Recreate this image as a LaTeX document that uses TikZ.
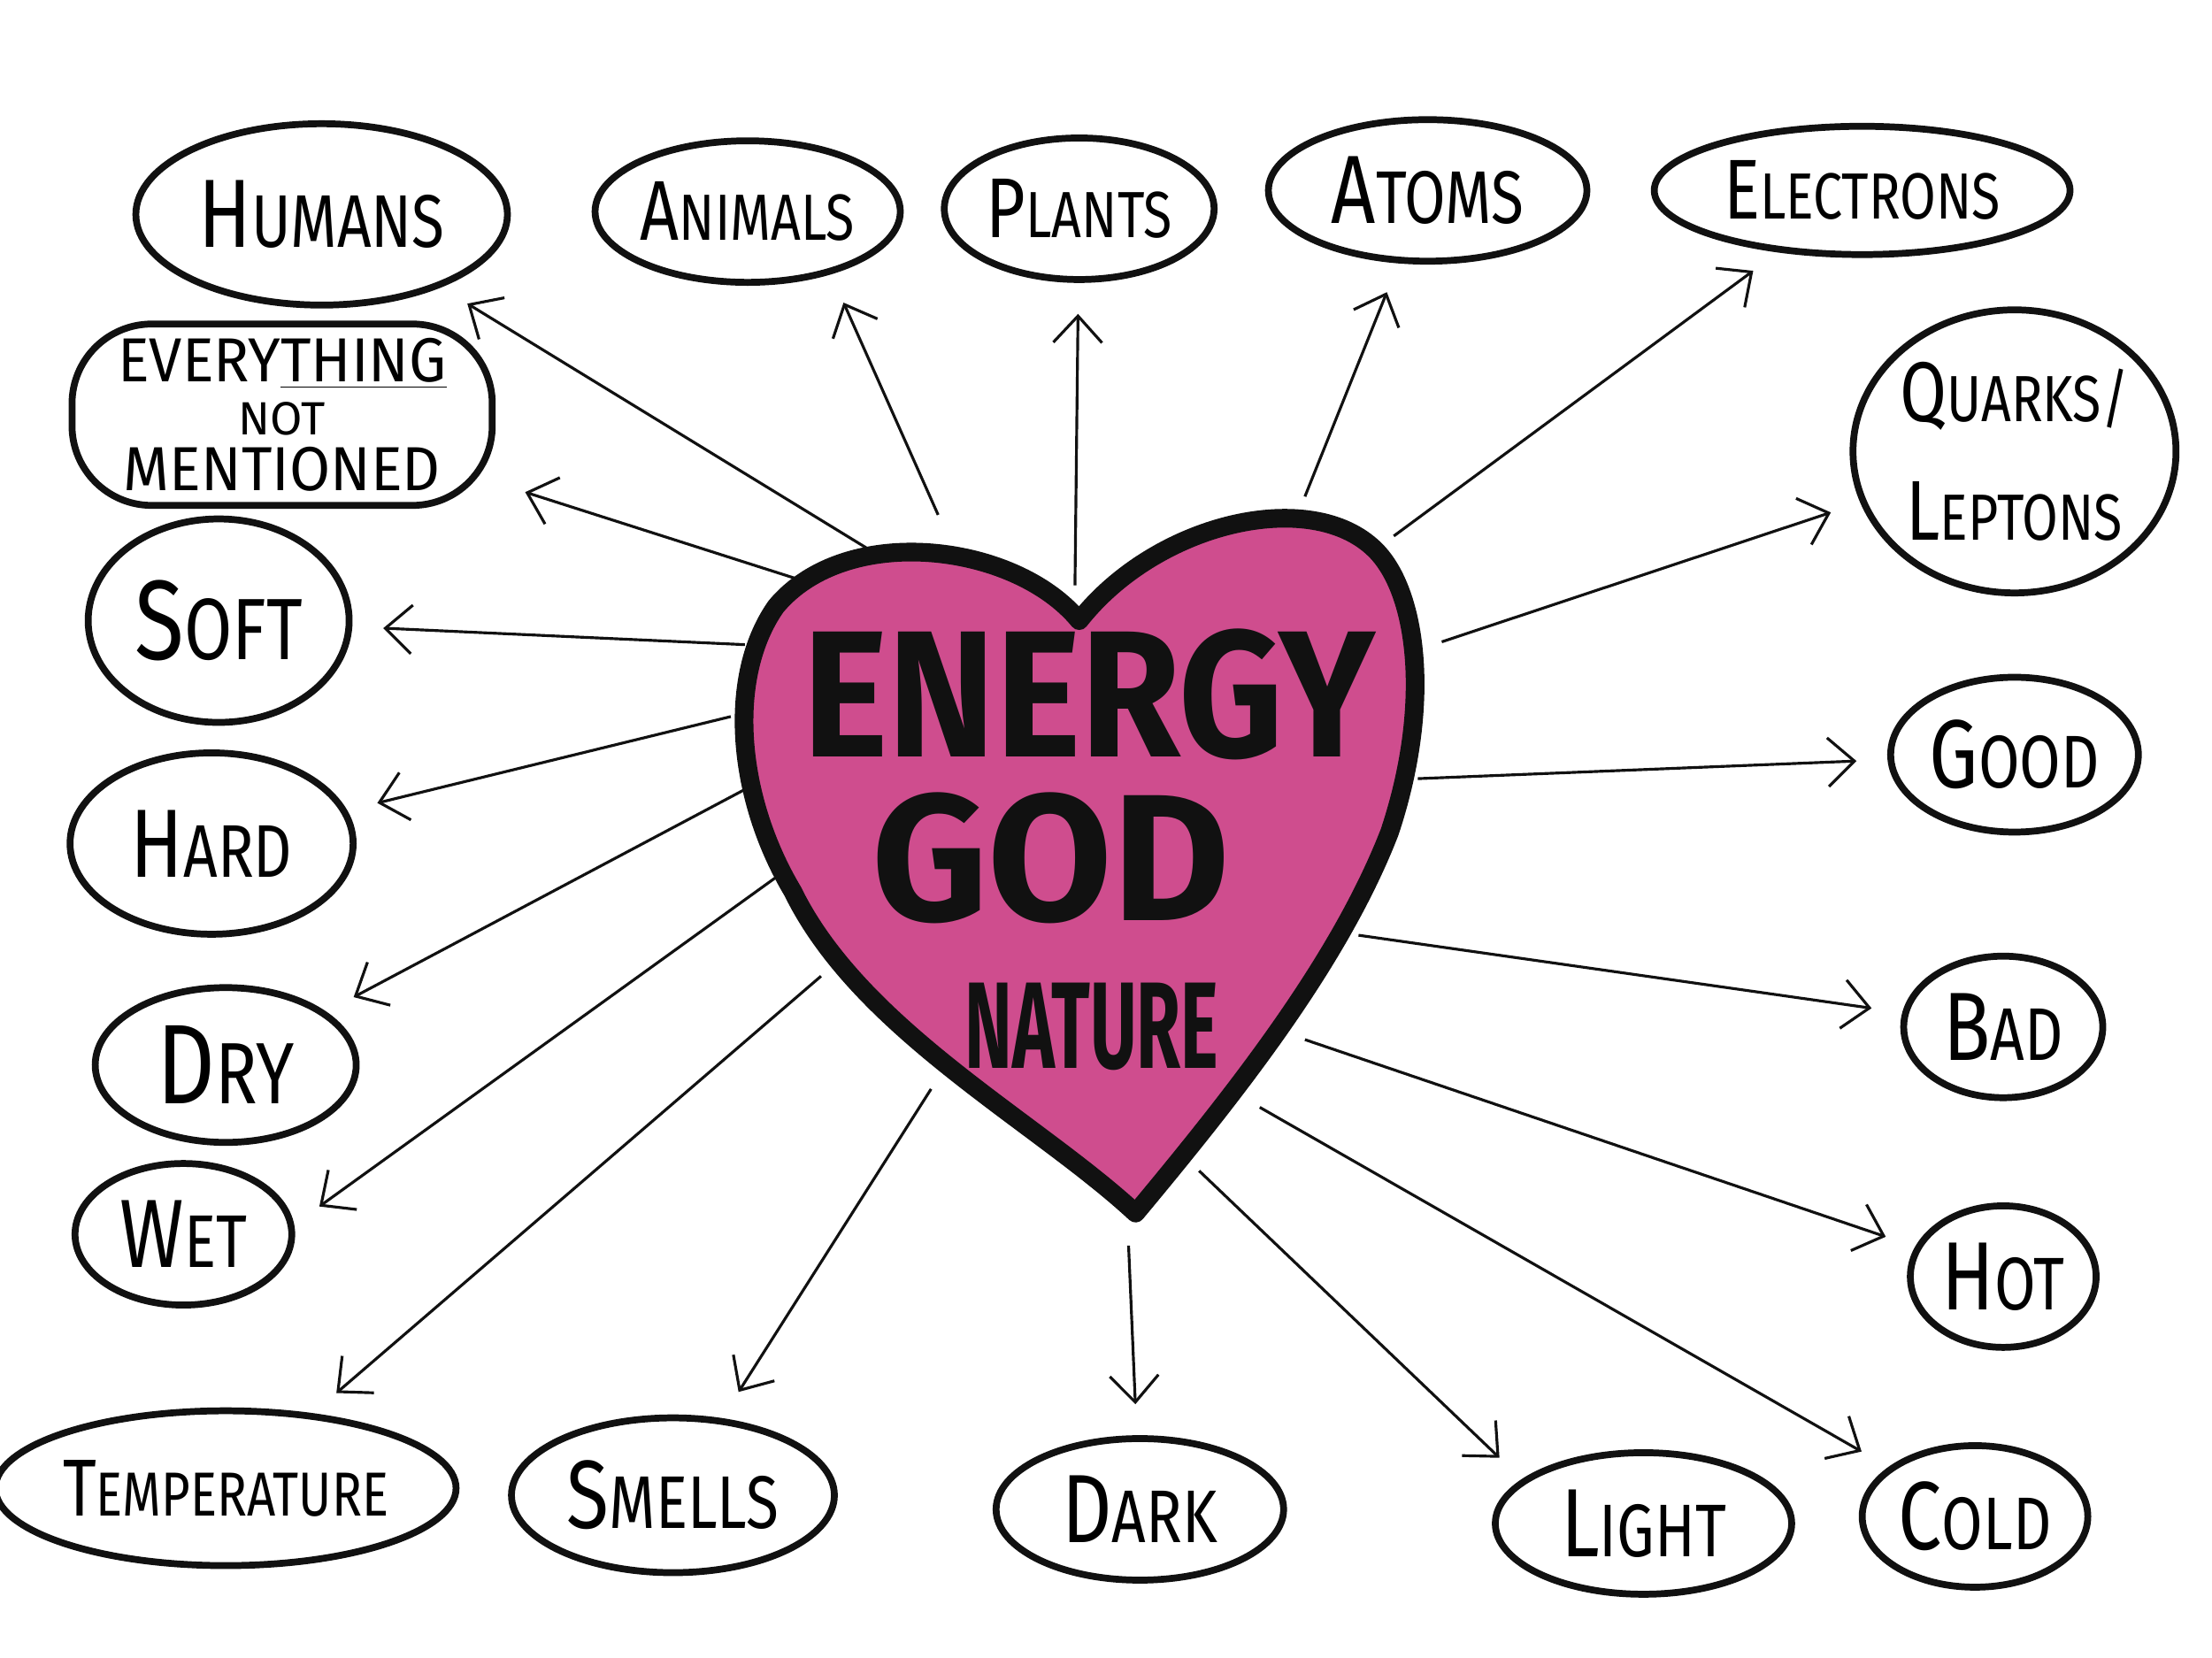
\documentclass[tikz,border=0pt]{standalone}
\usepackage{fontspec}
\setmainfont{Fira Sans}
\usetikzlibrary{arrows.meta,shapes.geometric}
\definecolor{ink}{HTML}{111111}
\definecolor{heartpink}{HTML}{CF4D8E}
\tikzset{
  blob/.style={draw=ink,ellipse,line width=2.2pt,inner sep=0pt,
               align=center,font=\fontsize{24}{28}\selectfont},
  blobbox/.style={draw=ink,rounded corners=0.9cm,line width=2.2pt,inner sep=0pt,
                  align=center,font=\fontsize{20}{20}\selectfont},
  heartline/.style={draw=ink,fill=heartpink,line width=6pt,line join=round},
  heartword/.style={inner sep=0pt,text=ink},
  ray/.style={-{Straight Barb[length=3mm,width=5.5mm]},line width=0.9pt,
              draw=ink,shorten >=0.35cm}
}
% big first letter, narrow hand lettering
\newcommand{\hand}[2]{\scalebox{0.8}[1]{\scalebox{1.3}{#1}#2}}

\begin{document}
\begin{tikzpicture}[x=0.01594cm,y=-0.01594cm]
  \useasboundingbox (0,0) rectangle (1568,1175);

  % the heart
  \path[heartline] (765,440) .. controls (720,385) and (600,370) .. (550,430)
    .. controls (515,480) and (522,565) .. (562,632)
    .. controls (610,730) and (735,795) .. (805,860)
    .. controls (880,770) and (950,680) .. (985,590)
    .. controls (1015,500) and (1005,420) .. (975,390)
    .. controls (930,345) and (820,370) .. (765,440) -- cycle;
  \node[heartword] (energy) at (772,492)
    {\fontsize{58}{58}\selectfont\bfseries\scalebox{0.9}[1]{ENERGY}};
  \node[heartword] (god) at (745,608)
    {\fontsize{58}{58}\selectfont\bfseries GOD};
  \node[heartword] (nature) at (774,728)
    {\fontsize{36}{36}\selectfont\bfseries\scalebox{0.64}[1.1]{NATURE}};

  % top row
  \node[blob,minimum width=4.2cm,minimum height=2.05cm] (humans) at (228,152) {\hand{H}{UMANS}};
  \node[blob,minimum width=3.45cm,minimum height=1.6cm,font=\fontsize{21}{24}\selectfont] (animals) at (530,150) {\hand{A}{NIMALS}};
  \node[blob,minimum width=3.05cm,minimum height=1.6cm,font=\fontsize{21}{24}\selectfont] (plants) at (765,148) {\hand{P}{LANTS}};
  \node[blob,minimum width=3.6cm,minimum height=1.6cm] (atoms) at (1012,135) {\hand{A}{TOMS}};
  \node[blob,minimum width=4.7cm,minimum height=1.45cm,font=\fontsize{21}{24}\selectfont] (electrons) at (1320,135) {\hand{E}{LECTRONS}};

  % left column
  \node[blobbox,minimum width=4.75cm,minimum height=2.05cm] (everything) at (200,294)
    {\scalebox{0.95}[1]{EVERY\underline{THING}}\\[-3pt]{\fontsize{15}{15}\selectfont NOT}\\[-2pt]\scalebox{0.95}[1]{MENTIONED}};
  \node[blob,minimum width=2.95cm,minimum height=2.3cm,font=\fontsize{28}{30}\selectfont] (soft) at (155,440) {\hand{S}{OFT}};
  \node[blob,minimum width=3.2cm,minimum height=2.05cm] (hard) at (150,598) {\hand{H}{ARD}};
  \node[blob,minimum width=2.95cm,minimum height=1.75cm,font=\fontsize{28}{30}\selectfont] (dry) at (160,755) {\hand{D}{RY}};
  \node[blob,minimum width=2.45cm,minimum height=1.6cm] (wet) at (130,875) {\hand{W}{ET}};
  \node[blob,minimum width=4.8cm,minimum height=1.75cm,font=\fontsize{20}{24}\selectfont] (temperature) at (160,1055) {\hand{T}{EMPERATURE}};

  % bottom row
  \node[blob,minimum width=3.65cm,minimum height=1.75cm] (smells) at (477,1060) {\hand{S}{MELLS}};
  \node[blob,minimum width=3.25cm,minimum height=1.6cm] (dark) at (808,1070) {\hand{D}{ARK}};
  \node[blob,minimum width=3.35cm,minimum height=1.6cm] (light) at (1165,1080) {\hand{L}{IGHT}};
  \node[blob,minimum width=2.55cm,minimum height=1.6cm] (cold) at (1400,1075) {\hand{C}{OLD}};

  % right column
  \node[blob,minimum width=3.65cm,minimum height=3.2cm,font=\fontsize{21}{24}\selectfont] (quarks) at (1428,320)
    {\hand{Q}{UARKS/}\\[14pt]\hand{L}{EPTONS}};
  \node[blob,minimum width=2.8cm,minimum height=1.75cm] (good) at (1428,535) {\hand{G}{OOD}};
  \node[blob,minimum width=2.25cm,minimum height=1.6cm] (bad) at (1420,728) {\hand{B}{AD}};
  \node[blob,minimum width=2.1cm,minimum height=1.6cm] (hot) at (1420,905) {\hand{H}{OT}};

  % rays out of the heart
  \foreach \n/\x/\y in {humans/620/392,everything/570/412,plants/762/415,
      atoms/925/352,electrons/988/380,quarks/1022/455,soft/528/457,
      good/1005/552,hard/518/508,bad/963/663,dry/533/557,hot/925/737,
      cold/893/785,temperature/582/692,smells/660/772,dark/800/883} {
    \draw[ray] (\x,\y) coordinate (s-\n) -- (\n);
  }
  \draw[ray] (665,365) coordinate (s-animals) -- (animals.323);
  \draw[ray] (550,622) coordinate (s-wet) -- (wet.5);
  \draw[ray] (850,830) coordinate (s-light) -- (light.160);
\end{tikzpicture}
\end{document}
